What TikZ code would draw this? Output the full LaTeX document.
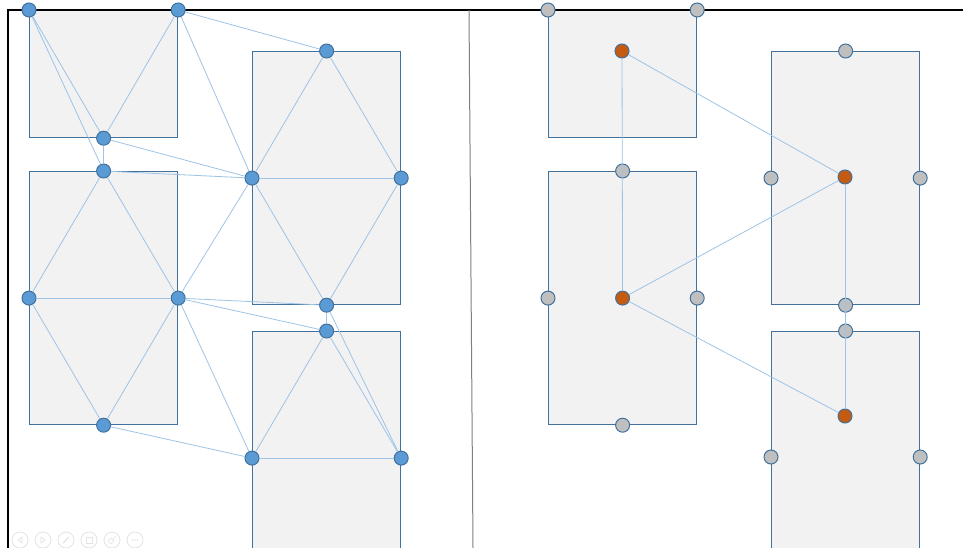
\documentclass[tikz,border=0pt]{standalone}
\usepackage{tikz}
\usetikzlibrary{positioning,calc}
\definecolor{cfill}{HTML}{f2f2f2}
\definecolor{cedge}{HTML}{41719c}
\definecolor{cdot}{HTML}{5b9bd5}
\definecolor{cgray}{HTML}{bfbfbf}
\definecolor{corange}{HTML}{c55a11}
\definecolor{clink}{HTML}{9dc3e6}
\definecolor{cicon}{HTML}{e3e3e3}

\begin{document}
\begin{tikzpicture}[x=1pt, y=-1pt,
    cell/.style={draw=cedge, fill=cfill, line width=1.2pt, anchor=north west, minimum width=148pt, minimum height=253pt, inner sep=0pt},
    dot/.style={circle, draw=cedge, fill=cdot, line width=1pt, minimum size=14pt, inner sep=0pt},
    gdot/.style={dot, fill=cgray},
    odot/.style={dot, fill=corange},
    link/.style={draw=clink, line width=.8pt}]
  \useasboundingbox (0,0) rectangle (963,548);
  \clip (0,0) rectangle (963,548);
  % left half: cells
  \node[cell, minimum height=127pt] (cA) at (29,10) {};
  \node[cell] (cB) at (29,171) {};
  \node[cell] (cC) at (252,51) {};
  \node[cell] (cD) at (252,331) {};
  % right half: cells
  \node[cell, minimum height=127pt] (cE) at (548,10) {};
  \node[cell] (cF) at (548,171) {};
  \node[cell] (cG) at (771,51) {};
  \node[cell] (cH) at (771,331) {};
  % frame and divider
  \draw[line width=2.2pt] (8,548) |- (963,10);
  \draw[gray, line width=1pt] (469,10) -- (473,548);
  % left ports
  \node[dot] (a1) at (cA.north west) {};
  \node[dot] (a2) at (cA.north east) {};
  \node[dot] (a3) at (cA.south) {};
  \node[dot] (b1) at (cB.north) {};
  \node[dot] (b2) at (cB.west) {};
  \node[dot] (b3) at (cB.east) {};
  \node[dot] (b4) at (cB.south) {};
  \node[dot] (c1) at (cC.north) {};
  \node[dot] (c2) at (cC.west) {};
  \node[dot] (c3) at (cC.east) {};
  \node[dot] (c4) at (cC.south) {};
  \node[dot] (d1) at (cD.north) {};
  \node[dot] (d2) at (cD.west) {};
  \node[dot] (d3) at (cD.east) {};
  % right ports
  \node[gdot] (e1) at (cE.north west) {};
  \node[gdot] (e2) at (cE.north east) {};
  \node[gdot] (f1) at (cF.north) {};
  \node[gdot] (f2) at (cF.west) {};
  \node[gdot] (f3) at (cF.east) {};
  \node[gdot] (f4) at (cF.south) {};
  \node[gdot] (g1) at (cG.north) {};
  \node[gdot] (g2) at (cG.west) {};
  \node[gdot] (g3) at (cG.east) {};
  \node[gdot] (g4) at (cG.south) {};
  \node[gdot] (h1) at (cH.north) {};
  \node[gdot] (h2) at (cH.west |- 0,457) {};
  \node[gdot] (h3) at (cH.east |- 0,457) {};
  % centres
  \node[odot] (eo) at (622,51) {};
  \node[odot] (fo) at (cF.center) {};
  \node[odot] (go) at (845,177) {};
  \node[odot] (ho) at (845,416) {};
  % links
  \foreach \u/\v in {a1/a3, a1/b1, a2/a3, a2/c1, a2/c2, a3/b1, a3/c2, b1/c2,
      b1/b2, b1/b3, b2/b3, b2/b4, b3/b4, b3/c2, b3/c4, b3/d1, b3/d2, b4/d2,
      c1/c2, c1/c3, c2/c3, c2/c4, c3/c4, c4/d1, c4/d3, d1/d2, d1/d3, d2/d3,
      eo/fo, eo/go, fo/go, fo/ho, go/ho}
    \path[link] (\u) -- (\v);
  % toolbar
  \foreach \i in {0,...,5}
    \node[circle, draw=cicon, line width=.8pt, minimum size=16pt, inner sep=0pt] (t\i) at ({20+\i*23},540) {};
  \draw[cicon, line width=.7pt] ([xshift=2pt,yshift=3pt]t0.center) -- ([xshift=-2pt]t0.center) -- ([xshift=2pt,yshift=-3pt]t0.center) -- cycle;
  \draw[cicon, line width=.7pt] ([xshift=-2pt,yshift=3pt]t1.center) -- ([xshift=2pt]t1.center) -- ([xshift=-2pt,yshift=-3pt]t1.center) -- cycle;
  \draw[cicon, line width=1.2pt] ([xshift=-3pt,yshift=-3pt]t2.center) -- ([xshift=3pt,yshift=3pt]t2.center);
  \draw[cicon, line width=.7pt] ([xshift=-3pt,yshift=-3pt]t3.center) rectangle ([xshift=3pt,yshift=3pt]t3.center);
  \draw[cicon, line width=.7pt] ([xshift=-1pt,yshift=-1pt]t4.center) circle (2.5pt) ([xshift=1pt,yshift=1pt]t4.center) -- ([xshift=4pt,yshift=4pt]t4.center);
  \foreach \k in {-2.5,0,2.5}
    \fill[cicon] ([xshift=\k pt]t5.center) circle (.9pt);
\end{tikzpicture}
\end{document}
